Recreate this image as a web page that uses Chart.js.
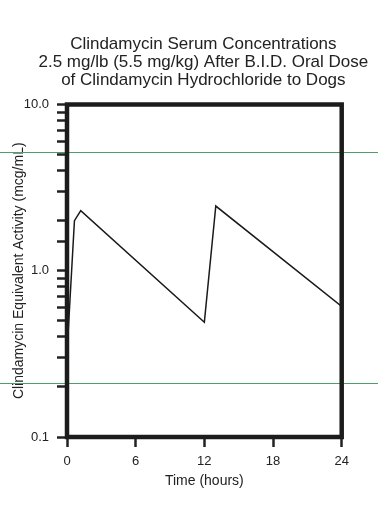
<!DOCTYPE html>
<html>
<head>
<meta charset="utf-8">
<script src="https://cdn.jsdelivr.net/npm/chart.js@4"></script>
<style>
  html, body { margin: 0; padding: 0; background: #fff; }
  canvas { display: block; }
</style>
</head>
<body>
<canvas id="myChart" width="378" height="521"></canvas>
<script>
// values
const titleLines = [
    'Clindamycin Serum Concentrations',
    '2.5 mg/lb (5.5 mg/kg) After B.I.D. Oral Dose',
    'of Clindamycin Hydrochloride to Dogs'
];
const timeHours = [0, 0.65, 1.2, 12, 13, 24];
const concentration = [0.32, 2.0, 2.3, 0.49, 2.45, 0.61];
const xTicks = [0, 6, 12, 18, 24];
const yMajorTicks = [0.1, 1, 10];
const yMajorLabels = ['0.1', '1.0', '10.0'];
const refLevels = [0.21, 5.2];

const FONT = '"Liberation Sans", Arial, sans-serif';
const INK = '#222';

const points = timeHours.map((t, i) => ({ x: t, y: concentration[i] }));

// frame, green reference lines and the 3-line title
const extras = {
    id: 'extras',
    beforeDatasetsDraw(chart) {
        const { ctx, scales } = chart;
        ctx.save();
        ctx.strokeStyle = '#4f9d6c';
        ctx.lineWidth = 1;
        refLevels.forEach(v => {
            const y = Math.round(scales.y.getPixelForValue(v)) + 0.5;
            ctx.beginPath();
            ctx.moveTo(0, y);
            ctx.lineTo(chart.width, y);
            ctx.stroke();
        });
        ctx.restore();
    },
    afterDatasetsDraw(chart) {
        const { ctx, chartArea: a } = chart;
        ctx.save();
        ctx.strokeStyle = '#1c1c1c';
        ctx.lineWidth = 4.5;
        ctx.strokeRect(a.left, a.top, a.right - a.left, a.bottom - a.top);
        ctx.fillStyle = INK;
        ctx.font = '17px ' + FONT;
        ctx.textAlign = 'center';
        ctx.textBaseline = 'alphabetic';
        const cx = (a.left + a.right) / 2 - 1;
        titleLines.forEach((s, i) => ctx.fillText(s, cx, 48.5 + i * 18.3));
        ctx.restore();
    }
};

const config = {
    type: 'line',
    data: {
        datasets: [{
            label: 'Clindamycin',
            data: points,
            borderColor: '#1a1a1a',
            borderWidth: 1.5,
            pointRadius: 0,
            tension: 0,
            fill: false
        }]
    },
    options: {
        responsive: false,
        animation: false,
        layout: { padding: { left: 0, right: 36.3, top: 104.5, bottom: 0 } },
        plugins: { legend: { display: false }, tooltip: { enabled: false } },
        scales: {
            x: {
                type: 'linear',
                min: 0,
                max: 24,
                afterFit: s => { s.height = 84; },
                afterBuildTicks: s => { s.ticks = xTicks.map(v => ({ value: v })); },
                border: { display: false },
                grid: { drawOnChartArea: false, drawTicks: true, tickLength: 10, tickWidth: 2.5, tickColor: INK },
                ticks: { color: INK, font: { family: FONT, size: 13 }, padding: 7, maxRotation: 0 },
                title: {
                    display: true,
                    text: 'Time (hours)',
                    color: INK,
                    font: { family: FONT, size: 14 },
                    padding: { top: 0, bottom: 31 }
                }
            },
            y: {
                type: 'logarithmic',
                min: 0.1,
                max: 10,
                afterFit: s => { s.width = 67; },
                border: { display: false },
                grid: { drawOnChartArea: false, drawTicks: true, tickLength: 10, tickWidth: 2.5, tickColor: INK },
                ticks: {
                    autoSkip: false,
                    color: INK,
                    font: { family: FONT, size: 13 },
                    padding: 8,
                    callback: v => {
                        const i = yMajorTicks.findIndex(m => Math.abs(m - v) < 1e-9);
                        return i >= 0 ? yMajorLabels[i] : '';
                    }
                },
                title: {
                    display: true,
                    text: 'Clindamycin Equivalent Activity (mcg/mL)',
                    color: INK,
                    font: { family: FONT, size: 14 },
                    padding: { top: 11, bottom: 0 }
                }
            }
        }
    },
    plugins: [extras]
};

const ctx = document.getElementById('myChart').getContext('2d');
const myChart = new Chart(ctx, config);
</script>
</body>
</html>
